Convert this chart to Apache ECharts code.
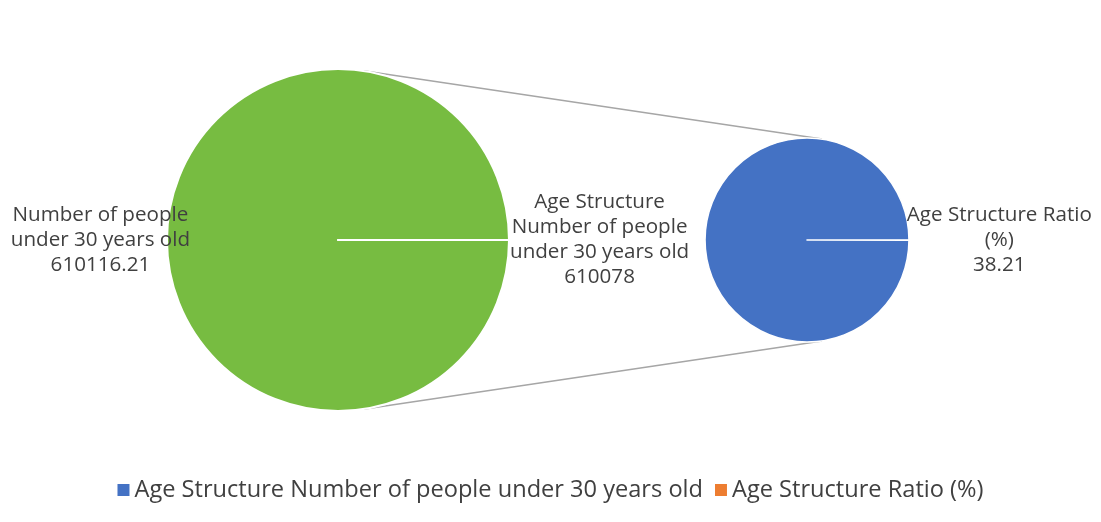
<!DOCTYPE html>
<html>
<head>
<meta charset="utf-8">
<script src="https://cdn.jsdelivr.net/npm/echarts@6/dist/echarts.min.js"></script>
<style>
  html, body { margin: 0; padding: 0; background: #fff; }
  #main { width: 1101px; height: 522px; }
</style>
</head>
<body>
<div id="main"></div>
<script>
(function () {
    // first (large) pie
    var bigPieNames = ['Number of people under 30 years old', 'Age Structure Number of people under 30 years old'];
    var bigPieValues = [610078, 38.21];
    var bigPieLabelNames = ['Number of people\nunder 30 years old', 'Age Structure\nNumber of people\nunder 30 years old'];
    var bigPieLabelValues = ['610116.21', '610078'];

    // second (small) pie
    var smallPieNames = ['Age Structure Ratio (%)'];
    var smallPieValues = [38.21];
    var smallPieLabelNames = ['Age Structure Ratio\n(%)'];
    var smallPieLabelValues = ['38.21'];

    var legendNames = ['Age Structure Number of people under 30 years old', 'Age Structure Ratio (%)'];
    var legendColors = ['#4472C4', '#ED7D31'];

    var green = '#77BC41';
    var textColor = '#404040';
    var font = 'Open Sans';

    var bigCenter = [338, 240], bigR = 171;
    var smallCenter = [807, 240], smallR = 102;

    function buildData(names, values) {
        var out = [];
        for (var i = 0; i < names.length; i++) {
            out.push({name: names[i], value: values[i]});
        }
        return out;
    }

    // outer tangents joining the two pies
    function connector(side) {
        var d = smallCenter[0] - bigCenter[0];
        var s = (bigR - smallR) / d;
        var c = Math.sqrt(1 - s * s);
        return {
            type: 'line',
            silent: true,
            z: 0,
            shape: {
                x1: bigCenter[0] + bigR * s, y1: bigCenter[1] + side * bigR * c,
                x2: smallCenter[0] + smallR * s, y2: smallCenter[1] + side * smallR * c
            },
            style: {stroke: '#A6A6A6', lineWidth: 1.5}
        };
    }

    var labelStyle = {
        show: true,
        position: 'outside',
        color: textColor,
        fontFamily: font,
        fontSize: 20.6,
        lineHeight: 25
    };

    var chart = echarts.init(document.getElementById('main'));

    var series = [{
        type: 'pie',
        center: bigCenter,
        radius: bigR,
        startAngle: 0,
        silent: true,
        avoidLabelOverlap: false,
        itemStyle: {color: green, borderColor: '#fff', borderWidth: 2},
        labelLine: {show: false, length: 0, length2: 0},
        label: Object.assign({}, labelStyle, {
            formatter: function (p) {
                return bigPieLabelNames[p.dataIndex] + '\n' + bigPieLabelValues[p.dataIndex];
            }
        }),
        labelLayout: function (p) {
            var w = p.labelRect.width;
            var x = p.dataIndex === 0 ? p.rect.x + 24 - w / 2 : p.rect.x + p.rect.width + w / 2;
            return {x: x, y: p.rect.y + p.rect.height / 2, align: 'center', verticalAlign: 'middle'};
        },
        data: buildData(bigPieNames, bigPieValues)
    }, {
        type: 'pie',
        center: smallCenter,
        radius: smallR,
        startAngle: 0,
        padAngle: 0.3,
        silent: true,
        avoidLabelOverlap: false,
        itemStyle: {color: '#4472C4', borderColor: '#fff', borderWidth: 1.6},
        labelLine: {show: false, length: 0, length2: 0},
        label: Object.assign({}, labelStyle, {
            formatter: function (p) {
                return smallPieLabelNames[p.dataIndex] + '\n' + smallPieLabelValues[p.dataIndex];
            }
        }),
        labelLayout: function (p) {
            var w = p.labelRect.width;
            return {
                x: p.rect.x + p.rect.width - 3 + w / 2,
                y: p.rect.y + p.rect.height / 2,
                align: 'center',
                verticalAlign: 'middle'
            };
        },
        data: buildData(smallPieNames, smallPieValues)
    }];

    // empty series that only feed the legend
    for (var k = 0; k < legendNames.length; k++) {
        series.push({
            type: 'pie',
            name: legendNames[k],
            data: [],
            showEmptyCircle: false,
            itemStyle: {color: legendColors[k]}
        });
    }

    var option = {
        animation: false,
        backgroundColor: '#fff',
        legend: {
            data: legendNames,
            bottom: 15,
            left: 'center',
            icon: 'rect',
            itemWidth: 12,
            itemHeight: 12,
            itemGap: 12,
            selectedMode: false,
            textStyle: {color: textColor, fontFamily: font, fontSize: 23.6}
        },
        graphic: [connector(-1), connector(1)],
        series: series
    };

    chart.setOption(option);
})();
</script>
</body>
</html>
